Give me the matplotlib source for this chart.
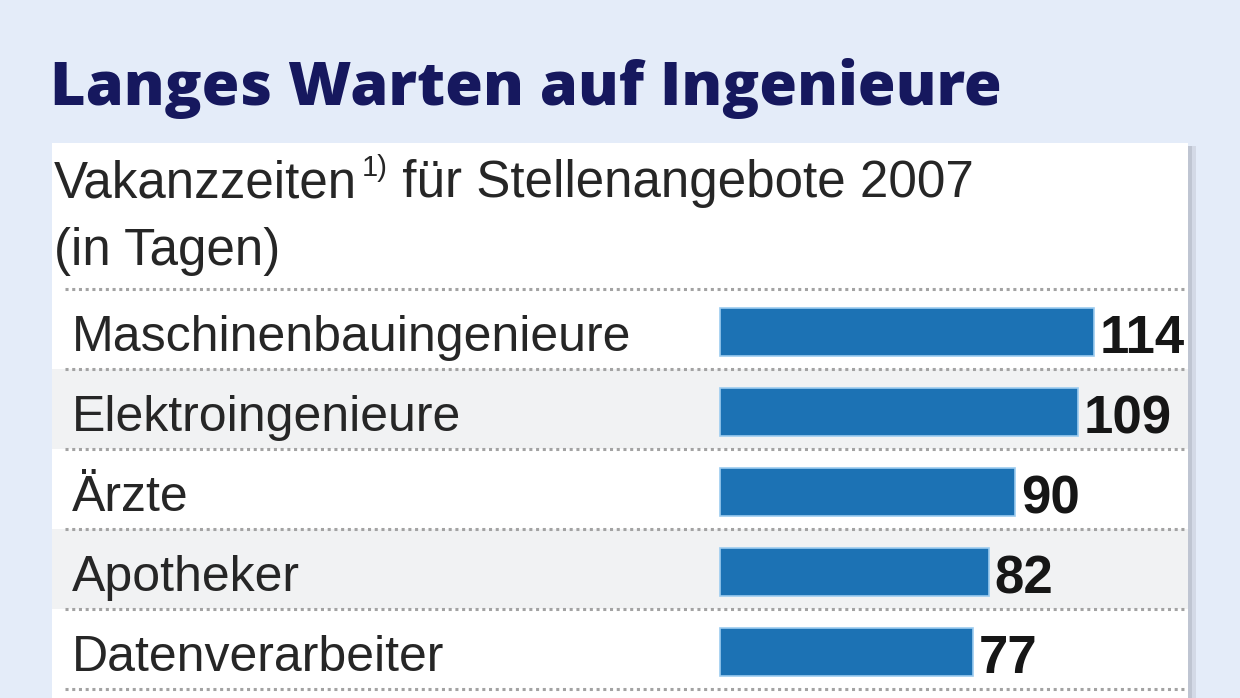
import matplotlib
matplotlib.use('Agg')
import matplotlib.pyplot as plt
from matplotlib.patches import Rectangle
from matplotlib import font_manager

# Daten
kategorien = ['Maschinenbauingenieure', 'Elektroingenieure', 'Ärzte', 'Apotheker', 'Datenverarbeiter']
tage = [114, 109, 90, 82, 77]

titel = 'Langes Warten auf Ingenieure'
untertitel_1 = 'Vakanzzeiten'
fussnote = '1)'
untertitel_2 = ' für Stellenangebote 2007'
untertitel_3 = '(in Tagen)'

# Farben
hg_blau = '#e4ecf9'
titel_farbe = '#16185e'
balken_farbe = '#1c72b4'
text_farbe = '#262626'
grau_zeile = '#f1f2f3'

namen = {f.name for f in font_manager.fontManager.ttflist}
schmal = 'Liberation Sans Narrow' if 'Liberation Sans Narrow' in namen else 'Liberation Sans'

W, H = 1240, 698
fig = plt.figure(figsize=(W / 100, H / 100), dpi=100, facecolor=hg_blau)

def fx(px):
    return px / W

def fy(py):
    return 1 - py / H

# weisses Feld + Schatten rechts
fig.patches.append(Rectangle((fx(1192), 0), fx(4), fy(146), transform=fig.transFigure,
                             facecolor='#d3d9e6', edgecolor='none', zorder=-2))
fig.patches.append(Rectangle((fx(1188), 0), fx(4), fy(146), transform=fig.transFigure,
                             facecolor='#bfc5d2', edgecolor='none', zorder=-2))
fig.patches.append(Rectangle((fx(52), 0), fx(1136), fy(143), transform=fig.transFigure,
                             facecolor='white', edgecolor='none', zorder=-2))

# Titel
fig.text(fx(50), fy(105), titel, fontsize=44, fontweight='heavy', color=titel_farbe,
         family='Open Sans', va='baseline', ha='left')

# Untertitel mit Fussnote
gr = 36.8
t1 = fig.text(fx(54), fy(197), untertitel_1, fontsize=gr, color=text_farbe,
              family=schmal, va='baseline', ha='left')
fig.canvas.draw()
r = fig.canvas.get_renderer()
bb = t1.get_window_extent(r)
t2 = fig.text(fx(bb.x1 + 5), fy(176), fussnote, fontsize=21, color=text_farbe,
              family=schmal, va='baseline', ha='left')
bb2 = t2.get_window_extent(r)
fig.text(fx(bb2.x1), fy(197), untertitel_2, fontsize=gr, color=text_farbe,
         family=schmal, va='baseline', ha='left')
fig.text(fx(54), fy(265), untertitel_3, fontsize=gr, color=text_farbe,
         family=schmal, va='baseline', ha='left')

# Balkenbereich
ax = fig.add_axes([fx(52), fy(689), fx(1136), (689 - 289) / H])
ax.set_facecolor('none')
px_pro_tag = 3.28
x0 = (720 - 52) / px_pro_tag
ax.set_xlim(-x0, 1136 / px_pro_tag - x0)
n = len(kategorien)
ax.set_ylim(n - 0.5, -0.5)
ax.axis('off')

for i in range(n):
    if i % 2 == 1:
        ax.axhspan(i - 0.5, i + 0.5, color=grau_zeile, zorder=0, lw=0)
for i in range(n + 1):
    ax.axhline(i - 0.5, xmin=13 / 1136, xmax=1133 / 1136, color='#a3a3a3', lw=2.2,
               linestyle=(0, (1, 1.2)), zorder=1, clip_on=False)

pos = [i + 0.04 for i in range(n)]
ax.barh(pos, tage, height=0.6, color=balken_farbe, edgecolor='#9cccf0', linewidth=1.2, zorder=2)

for i, (k, v) in enumerate(zip(kategorien, tage)):
    ax.text(20 / 1136, i + 0.27, k, transform=ax.get_yaxis_transform(), fontsize=36,
            color=text_farbe, family=schmal, va='baseline', ha='left')
    ax.text(v + 1.8, i + 0.3, str(v), fontsize=38, fontweight='bold', color='#161616',
            family=schmal, va='baseline', ha='left')

fig.savefig('out.png', dpi=100, facecolor=hg_blau)
